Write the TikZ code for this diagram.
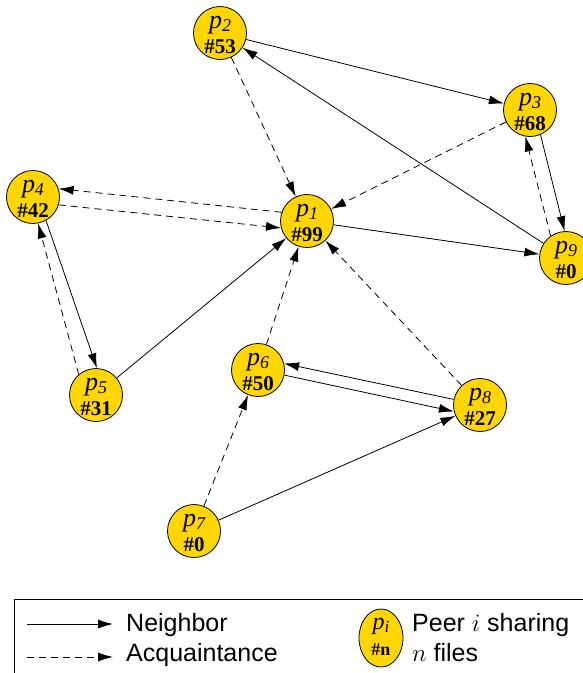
\documentclass[tikz,border=0pt]{standalone}
\usepackage{fontspec}
\setmainfont{Liberation Serif}
\newfontfamily\lsans{Liberation Sans}
\usetikzlibrary{arrows.meta,shapes.geometric}
\definecolor{gold}{RGB}{255,214,0}
\newcommand\peernode[4]{%
  \node[peer] (#1) at (#2) {};
  \node[ptext] (#1p) at ([yshift=5pt]#1.center) {p\raisebox{-3pt}{\fontsize{18}{18}\selectfont #3}};
  \node[ntext] (#1n) at ([yshift=-20pt]#1.center) {\##4};
}
\begin{document}
\begin{tikzpicture}[x=1pt,y=-1pt,
  peer/.style={circle,draw,line width=0.8pt,fill=gold,minimum size=53pt,inner sep=0pt},
  ptext/.style={anchor=base,inner sep=0pt,font=\fontsize{26}{26}\selectfont\itshape},
  ntext/.style={anchor=base,inner sep=0pt,font=\fontsize{21}{21}\selectfont\bfseries},
  nb/.style={-{Latex[length=15pt,width=9pt]},line width=0.8pt},
  aq/.style={nb,dash pattern=on 7pt off 5pt},
  lgtext/.style={anchor=base west,inner sep=0pt,font=\lsans\fontsize{25}{25}\selectfont}]
\useasboundingbox (0,0) rectangle (583,673);
\peernode{p1}{307,221}{1}{99}
\peernode{p2}{220,33}{2}{53}
\peernode{p3}{530,110}{3}{68}
\peernode{p4}{33,197}{4}{42}
\peernode{p5}{96,395}{5}{31}
\peernode{p6}{258,370}{6}{50}
\peernode{p7}{194,531}{7}{0}
\peernode{p8}{480,405}{8}{27}
\peernode{p9}{566,258}{9}{0}
% edges
\draw[nb] (p2) -- (p3);
\draw[nb] (p9) -- (p2);
\draw[aq] (p2) -- (p1);
\draw[aq] (p3) -- (p1);
\draw[nb] (p3.-67) -- (p9.93);
\draw[aq] (p9.125) -- (p3.-100);
\draw[aq] (p1.161) -- (p4.18);
\draw[aq] (p4.-17) -- (p1.195);
\draw[nb] (p1) -- (p9);
\draw[nb] (p4.-61) -- (p5.88);
\draw[aq] (p5.130) -- (p4.-79);
\draw[nb] (p5) -- (p1);
\draw[aq] (p6) -- (p1);
\draw[aq] (p8) -- (p1);
\draw[nb] (p8.168) -- (p6.14);
\draw[nb] (p6.-11) -- (p8.194);
\draw[aq] (p7) -- (p6);
\draw[nb] (p7) -- (p8);
% legend
\draw[line width=0.8pt] (14,674) -- (14,599) -- (584,599);
\coordinate (ln1) at (27,624);
\coordinate (ln2) at (113,624);
\coordinate (la1) at (27,657);
\coordinate (la2) at (113,657);
\draw[nb] (ln1) -- (ln2);
\draw[aq] (la1) -- (la2);
\node[lgtext] (tn) at (126,631) {Neighbor};
\node[lgtext] (ta) at (126,661) {Acquaintance};
\node[ellipse,draw,line width=0.8pt,fill=gold,minimum width=44pt,minimum height=58pt,inner sep=0pt] (lp) at (381,638) {};
\node[ptext,font=\fontsize{24}{24}\selectfont\itshape] (lpp) at ([yshift=9pt]lp.center) {p\raisebox{-3pt}{\fontsize{17}{17}\selectfont i}};
\node[ntext,font=\fontsize{18}{18}\selectfont\bfseries] (lpn) at ([yshift=-17pt]lp.center) {\#n};
\node[lgtext] (tp) at (412,631) {Peer $i$ sharing};
\node[lgtext] (tf) at (412,661) {$n$ files};
\end{tikzpicture}
\end{document}
